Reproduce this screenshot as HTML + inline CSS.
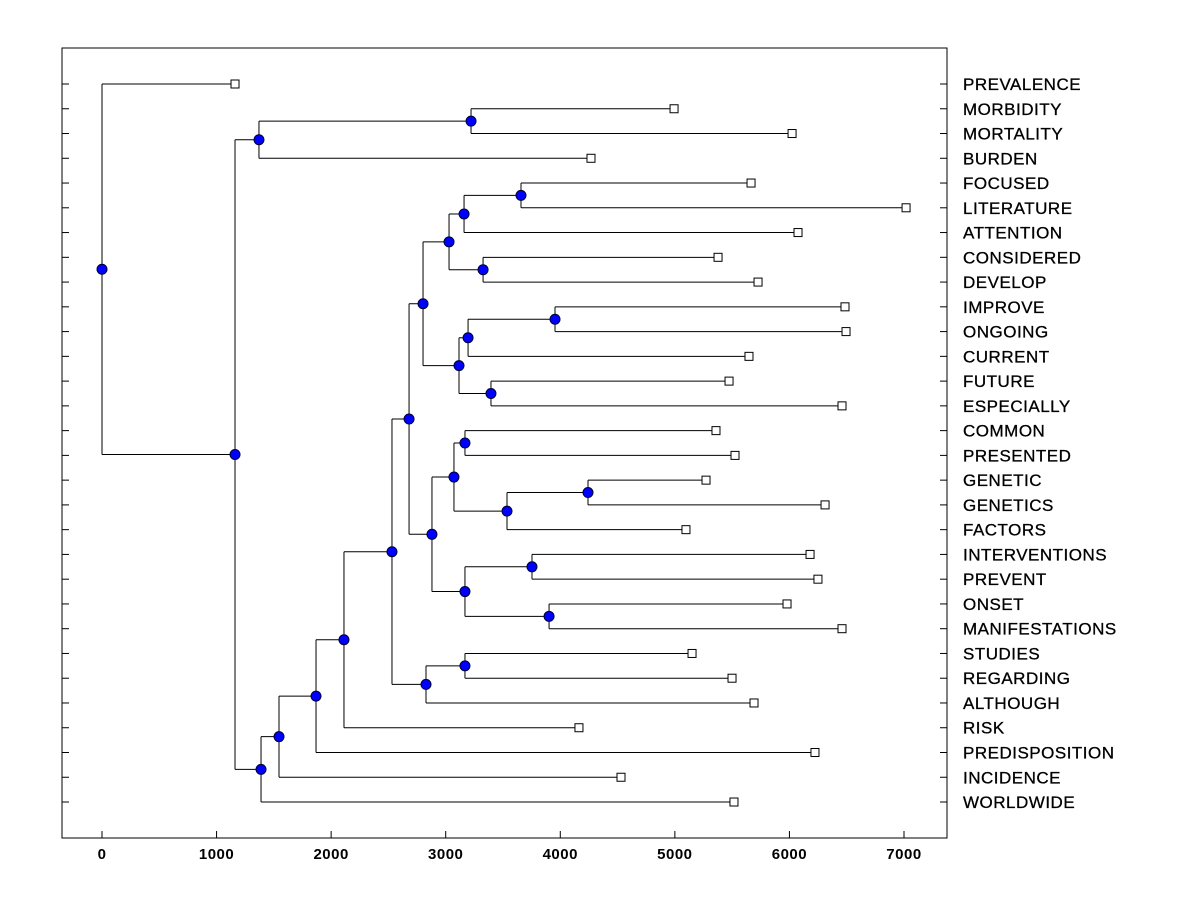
<!DOCTYPE html>
<html><head><meta charset="utf-8"><style>
html,body{margin:0;padding:0;background:#fff;}
svg{display:block;font-family:"Liberation Sans",Arial,sans-serif;}
</style></head><body>
<svg id="chart" width="1200" height="900"></svg>
<script>
const leafLabels=["PREVALENCE","MORBIDITY","MORTALITY","BURDEN","FOCUSED","LITERATURE","ATTENTION","CONSIDERED","DEVELOP","IMPROVE","ONGOING","CURRENT","FUTURE","ESPECIALLY","COMMON","PRESENTED","GENETIC","GENETICS","FACTORS","INTERVENTIONS","PREVENT","ONSET","MANIFESTATIONS","STUDIES","REGARDING","ALTHOUGH","RISK","PREDISPOSITION","INCIDENCE","WORLDWIDE"];
const leafValues=[1161,4993,6023,4268,5665,7018,6075,5377,5726,6485,6494,5647,5473,6459,5359,5525,5272,6311,5097,6180,6249,5979,6459,5150,5499,5691,4163,6223,4530,5516];
// merges: child ids (leaves 0..29, merge k has id 30+k) and merge heights
const mergeA=[1,30,4,32,7,33,9,36,12,37,35,14,16,42,41,19,21,45,44,40,23,50,49,52,53,54,55,31,0];
const mergeB=[2,3,5,6,8,34,10,11,13,38,39,15,17,18,43,20,22,46,47,48,24,25,51,26,27,28,29,56,57];
const mergeH=[3221,1370,3657,3160,3326,3029,3954,3195,3395,3116,2802,3168,4242,3535,3072,3753,3902,3168,2880,2680,3168,2828,2531,2112,1868,1545,1388,1161,0];
const xTicks=[0,1000,2000,3000,4000,5000,6000,7000];
</script>
<script>
const svg=document.getElementById('chart');
const NS='http://www.w3.org/2000/svg';
const L=62,R=947,T=48,B=838;
const X=v=>102+v*0.114571;
const Y=i=>84+i*24.759;
function el(tag,attrs,name){const e=document.createElementNS(NS,tag);for(const k in attrs)e.setAttribute(k,attrs[k]);


svg.appendChild(e);return e;}
const nodes=[];
leafValues.forEach((v,i)=>nodes[i]={x:X(v),y:Y(i)});
el('rect',{x:L,y:T,width:R-L,height:B-T,fill:'none',stroke:'#000','stroke-width':1},'plot-frame');
mergeH.forEach((h,k)=>{
  const a=nodes[mergeA[k]],b=nodes[mergeB[k]],x=X(h);
  const y=(a.y+b.y)/2;
  nodes[30+k]={x,y};
  el('line',{x1:x,y1:a.y,x2:x,y2:b.y,stroke:'#000','stroke-width':1},'dendrogram-link');
  el('line',{x1:x,y1:a.y,x2:a.x,y2:a.y,stroke:'#000','stroke-width':1},'dendrogram-link');
  el('line',{x1:x,y1:b.y,x2:b.x,y2:b.y,stroke:'#000','stroke-width':1},'dendrogram-link');
});
mergeH.forEach((h,k)=>{const n=nodes[30+k];
  el('circle',{cx:n.x,cy:n.y,r:5,fill:'#0000ff',stroke:'#000033','stroke-width':1},'cluster-node');});
leafLabels.forEach((lab,i)=>{
  const n=nodes[i];
  el('rect',{x:n.x-4,y:n.y-4,width:8,height:8,fill:'#fff',stroke:'#000','stroke-width':1},'leaf-marker');
  el('line',{x1:L,y1:n.y,x2:L+7,y2:n.y,stroke:'#000'},'y-tick');
  el('line',{x1:R-7,y1:n.y,x2:R,y2:n.y,stroke:'#000'},'y-tick');
  const t=el('text',{x:963,y:n.y+6,'font-size':17,'letter-spacing':0.5,fill:'#000',stroke:'#000','stroke-width':0.3},'leaf-label');t.textContent=lab;
});
xTicks.forEach(v=>{
  el('line',{x1:X(v),y1:B,x2:X(v),y2:B-7,stroke:'#000'},'x-tick');
  const t=el('text',{x:X(v),y:859,'font-size':15,'font-weight':'bold','letter-spacing':0.5,'text-anchor':'middle',fill:'#000'},'x-tick-label');t.textContent=v;
});
</script>
</body></html>
